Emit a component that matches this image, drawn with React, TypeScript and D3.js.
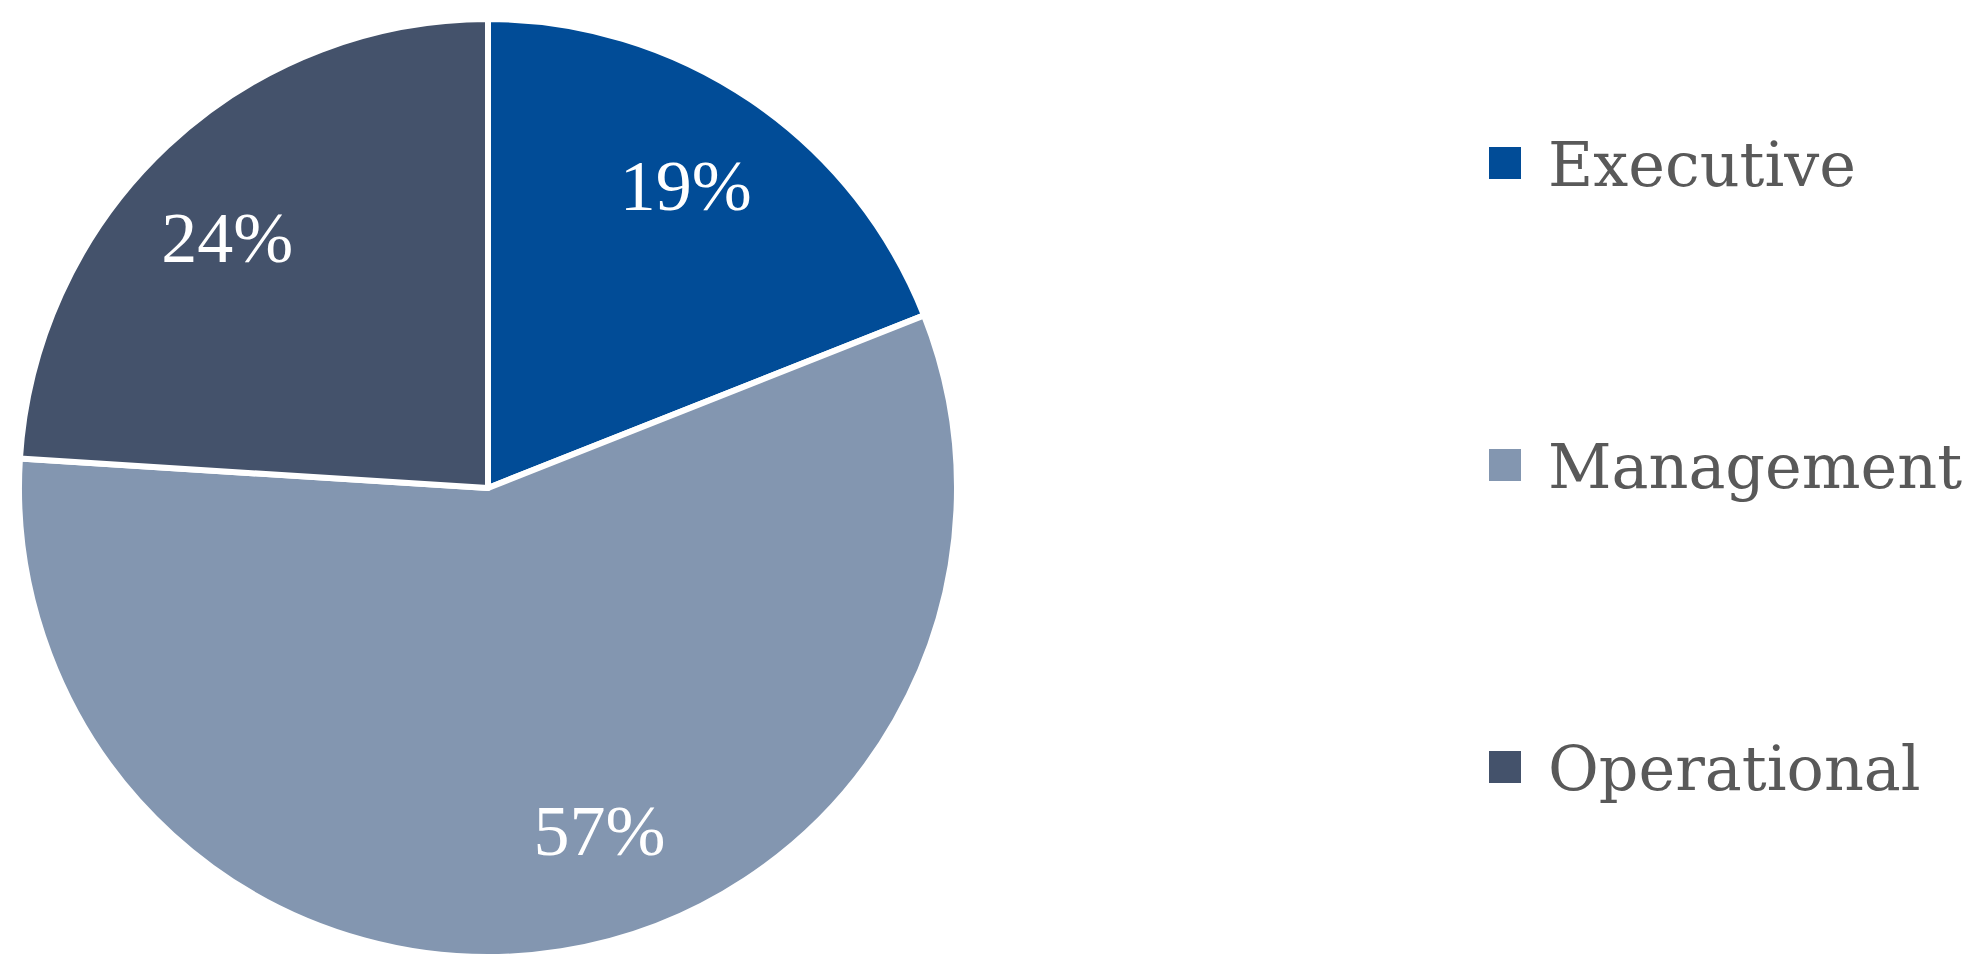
import React from 'react';
import * as d3 from 'd3';

// Slice data (percent of respondents by level)
const categories = ['Executive', 'Management', 'Operational'];
const shares = [19, 57, 24];
const sliceColors = ['#014C97', '#8396B0', '#44526B'];

// label nudge in degrees along the arc (Excel "best fit" placement)
const labelAngleNudge = [-1, -9, -3];

const width = 1970;
const height = 979;
const cx = 488;
const cy = 488;
const radius = 469;

const App = () => {
  const pie = d3.pie<number>().sort(null).value(d => d);
  const arcs = pie(shares);

  const arc = d3.arc<d3.PieArcDatum<number>>().innerRadius(0).outerRadius(radius);

  const labelR = radius * 0.77;
  const labelPos = (a: d3.PieArcDatum<number>, i: number) => {
    const mid = (a.startAngle + a.endAngle) / 2 + (labelAngleNudge[i] * Math.PI) / 180;
    return [Math.sin(mid) * labelR, -Math.cos(mid) * labelR];
  };

  // legend layout
  const legendX = 1489;
  const legendTextX = 1548;
  const legendY = d3.scalePoint<string>().domain(categories).range([163, 767]);
  const box = 32;

  return (
    <svg
      width={width}
      height={height}
      style={{ position: 'absolute', left: 0, top: 0, background: '#fff' }}
    >
      <g transform={`translate(${cx},${cy})`}>
        {arcs.map((a, i) => (
          <path
            key={categories[i]}
            d={arc(a) || ''}
            fill={sliceColors[i]}
            stroke="#fff"
            strokeWidth={6}
            strokeLinejoin="round"
          />
        ))}
        {arcs.map((a, i) => {
          const [x, y] = labelPos(a, i);
          return (
            <text
              key={'lbl' + i}
              x={x}
              y={y}
              textAnchor="middle"
              dominantBaseline="central"
              fill="#fff"
              fontFamily="'Liberation Serif', 'DejaVu Serif', serif"
              fontSize={72}
            >
              {shares[i]}%
            </text>
          );
        })}
      </g>

      {/* Legend */}
      {categories.map((c, i) => {
        const y = legendY(c) as number;
        return (
          <g key={'leg' + c}>
            <rect x={legendX} y={y - box / 2} width={box} height={box} fill={sliceColors[i]} />
            <text
              x={legendTextX}
              y={y + 23}
              fill="#595959"
              fontFamily="'DejaVu Serif', 'Liberation Serif', serif"
              fontSize={62}
            >
              {c}
            </text>
          </g>
        );
      })}
    </svg>
  );
};

export default App;
